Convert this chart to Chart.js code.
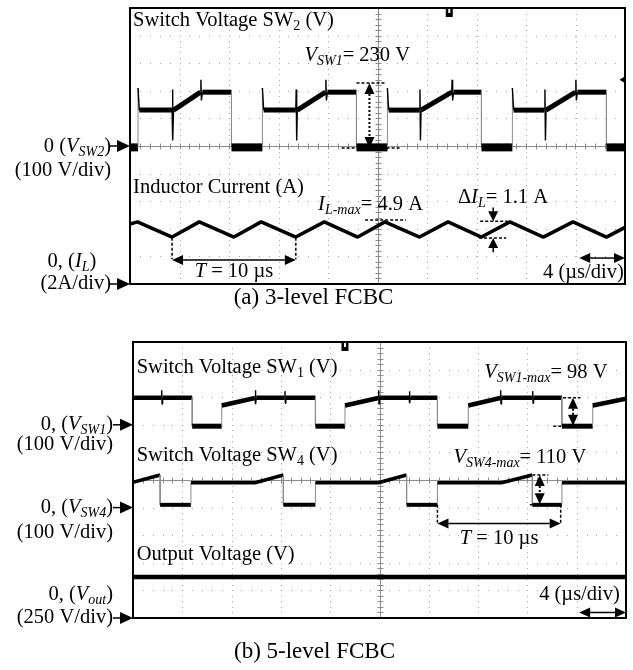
<!DOCTYPE html>
<html lang="en">
<head>
<meta charset="UTF-8">
<title>FCBC | formas de onda</title>
<script src="https://cdn.jsdelivr.net/npm/chart.js@4"></script>
<style>
    body { margin: 0; background: #fff; width: 633px; height: 670px; overflow: hidden; }
    canvas { position: absolute; left: 0; }
    #graficoA { top: 0; }
    #graficoB { top: 320px; }
</style>
</head>
<body>
<canvas id="graficoA" width="633" height="320"></canvas>
<canvas id="graficoB" width="633" height="350"></canvas>
<script>
// eixo do tempo: 4 us/div, 10 divisoes
var tempoMax = 40
var usPorDiv = 4

// (a) 3 niveis - tensao na chave SW2 (V), 100 V/div, zero no centro
var sw2T = [0, 0.65, 0.65, 0.75, 3.4, 3.43, 3.47, 3.52, 5.7, 5.73, 5.77, 5.85, 8.2, 8.2,
    10.7, 10.7, 10.8, 13.4, 13.43, 13.47, 13.52, 15.8, 15.83, 15.87, 15.95, 18.3, 18.3,
    20.8, 20.8, 20.9, 23.4, 23.43, 23.47, 23.52, 26.0, 26.03, 26.07, 26.15, 28.4, 28.4,
    30.9, 30.9, 31.0, 33.5, 33.53, 33.57, 33.62, 36.0, 36.03, 36.07, 36.15, 38.5, 38.5, 40]
var sw2V = [-5, -5, 210, 130, 130, 205, 20, 130, 195, 240, 165, 195, 195, -5,
    -5, 210, 130, 130, 205, 20, 130, 195, 240, 165, 195, 195, -5,
    -5, 210, 130, 130, 205, 20, 130, 195, 240, 165, 195, 195, -5,
    -5, 210, 130, 130, 205, 20, 130, 195, 240, 165, 195, 195, -5, -5]

// corrente no indutor (A), 2 A/div, zero embaixo
var ilT = [0, 0.6, 3.4, 5.6, 8.4, 10.6, 13.4, 15.7, 18.4, 20.6, 23.4, 25.7, 28.4, 30.7, 33.4, 35.8, 38.5, 40]
var ilA = [4.35, 4.5, 3.4, 4.5, 3.4, 4.5, 3.4, 4.5, 3.4, 4.5, 3.4, 4.5, 3.4, 4.5, 3.4, 4.5, 3.4, 4.1]

// (b) 5 niveis - SW1 (V), 100 V/div
var sw1T = [0, 2.3, 2.33, 2.36, 2.4, 4.8, 4.8, 7.2, 7.2, 9.9, 9.93, 9.96, 10.0,
    12.3, 12.33, 12.36, 12.4, 14.8, 14.8, 17.2, 17.2, 19.9, 19.93, 19.96, 20.0,
    22.4, 22.43, 22.46, 22.5, 24.7, 24.7, 27.2, 27.2, 29.8, 29.83, 29.86, 29.9,
    32.4, 32.43, 32.46, 32.5, 34.8, 34.8, 37.3, 37.3, 40]
var sw1V = [98, 98, 125, 75, 98, 98, -5, -5, 70, 97, 125, 75, 98,
    98, 122, 78, 98, 98, -5, -5, 70, 97, 125, 75, 98,
    98, 122, 78, 98, 98, -5, -5, 70, 97, 125, 75, 98,
    98, 122, 78, 98, 98, -5, -5, 70, 95]

// SW4 (V), 100 V/div
var sw4T = [0, 2.2, 2.2, 4.7, 4.7, 9.9, 12.2, 12.2, 14.8, 14.8, 19.9, 22.2, 22.2, 24.7, 24.7, 29.9, 32.4, 32.4, 34.8, 34.8, 40]
var sw4V = [92, 118, 10, 10, 90, 90, 118, 10, 10, 90, 90, 118, 10, 10, 90, 90, 118, 10, 10, 90, 90]

// tensao de saida (V), 250 V/div
var voutT = [0, 40]
var voutV = [372, 372]

// posicao do zero (div) e escala de cada canal
var canalSw2 = { zero: 0, porDiv: 100 }
var canalIl = { zero: -5, porDiv: 2 }
var canalSw1 = { zero: 2, porDiv: 100 }
var canalSw4 = { zero: -1, porDiv: 100 }
var canalVout = { zero: -5, porDiv: 250 }

var FONTE = '"Liberation Serif", "Times New Roman", serif'
var TAM = 20.5

function pontos(ts, vs, canal) {
    return ts.map(function (t, i) {
        return { x: t, y: canal.zero + vs[i] / canal.porDiv }
    })
}

// bordas verticais finas e cinzas, picos finos, faixa baixa mais grossa
function larguraSeg(ts, vs, grossa, baixa, larguraBaixa) {
    return function (ctx) {
        var i = ctx.p0DataIndex, j = ctx.p1DataIndex
        var dt = ts[j] - ts[i]
        if (dt < 0.01) return 1
        if (dt < 0.12) return 1.4
        if (baixa !== null && vs[i] <= baixa && vs[j] <= baixa) return larguraBaixa
        return grossa
    }
}
function corSeg(ts) {
    return function (ctx) {
        return ts[ctx.p1DataIndex] - ts[ctx.p0DataIndex] < 0.01 ? '#8a8a8a' : '#000'
    }
}

function serie(ts, vs, canal, grossa, baixa, larguraBaixa) {
    return {
        data: pontos(ts, vs, canal),
        borderColor: '#000',
        borderWidth: grossa,
        borderJoinStyle: 'bevel',
        pointRadius: 0,
        tension: 0,
        segment: {
            borderWidth: larguraSeg(ts, vs, grossa, baixa, larguraBaixa),
            borderColor: corSeg(ts)
        }
    }
}

function fonte(estilo, tam) {
    var s = estilo.indexOf('s') >= 0 ? Math.round(tam * 0.68) : tam
    return (estilo.indexOf('i') >= 0 ? 'italic ' : '') + s + 'px ' + FONTE
}

function texto(ctx, partes, x, y, alinhar, tam) {
    tam = tam || TAM
    var total = 0
    partes.forEach(function (p) {
        ctx.font = fonte(p[1], tam)
        total += ctx.measureText(p[0]).width
    })
    var x0 = alinhar === 'right' ? x - total : (alinhar === 'center' ? x - total / 2 : x)
    ctx.textBaseline = 'middle'
    ctx.textAlign = 'left'
    ctx.fillStyle = '#000'
    partes.forEach(function (p) {
        ctx.font = fonte(p[1], tam)
        var dy = p[1].indexOf('s') >= 0 ? tam * 0.28 : 0
        ctx.fillText(p[0], x0, y + dy)
        x0 += ctx.measureText(p[0]).width
    })
}

function linha(ctx, x1, y1, x2, y2, tracos, largura) {
    ctx.setLineDash(tracos || [])
    ctx.lineWidth = largura || 1.5
    ctx.beginPath()
    ctx.moveTo(x1, y1)
    ctx.lineTo(x2, y2)
    ctx.stroke()
    ctx.setLineDash([])
}

function cabeca(ctx, x, y, ang, comp, larg) {
    var c = Math.cos(ang), s = Math.sin(ang)
    ctx.beginPath()
    ctx.moveTo(x, y)
    ctx.lineTo(x - comp * c + larg * s, y - comp * s - larg * c)
    ctx.lineTo(x - comp * c - larg * s, y - comp * s + larg * c)
    ctx.closePath()
    ctx.fill()
}

function setaDupla(ctx, x1, y1, x2, y2, tracos, largura) {
    var ang = Math.atan2(y2 - y1, x2 - x1)
    var comp = 11, larg = 5
    var c = Math.cos(ang), s = Math.sin(ang)
    linha(ctx, x1 + comp * c, y1 + comp * s, x2 - comp * c, y2 - comp * s, tracos, largura)
    cabeca(ctx, x2, y2, ang, comp, larg)
    cabeca(ctx, x1, y1, ang + Math.PI, comp, larg)
}

function setaSimples(ctx, x1, y1, x2, y2) {
    var ang = Math.atan2(y2 - y1, x2 - x1)
    linha(ctx, x1, y1, x2 - 9 * Math.cos(ang), y2 - 9 * Math.sin(ang), [], 1.5)
    cabeca(ctx, x2, y2, ang, 10, 5)
}

// seta "0 ->" que aponta para o nivel zero de um canal, na borda esquerda
function setaZero(ctx, xPonta, y) {
    linha(ctx, xPonta - 20, y, xPonta - 10, y, [], 1.5)
    cabeca(ctx, xPonta, y, 0, 13, 6)
}

function marcaGatilho(ctx, x, y) {
    ctx.fillStyle = '#000'
    ctx.fillRect(x - 3.5, y - 4, 7, 8)
    ctx.fillStyle = '#fff'
    ctx.fillRect(x - 1, y - 4, 2, 4)
    ctx.fillStyle = '#000'
}

// grade do osciloscopio desenhada a partir dos ticks das escalas
var gradeOsc = {
    id: 'gradeOsc',
    beforeDatasetsDraw: function (chart) {
        var ctx = chart.ctx, a = chart.chartArea
        var sx = chart.scales.x, sy = chart.scales.y
        var passoX = (sx.getPixelForValue(usPorDiv) - sx.getPixelForValue(0)) / 5
        var passoY = (sy.getPixelForValue(0) - sy.getPixelForValue(1)) / 5
        ctx.save()
        ctx.fillStyle = '#a8a8a8'
        sx.ticks.forEach(function (tk) {
            var px = Math.round(sx.getPixelForValue(tk.value))
            for (var y = a.top; y < a.bottom; y += passoY) ctx.fillRect(px, Math.round(y), 1, 1)
        })
        sy.ticks.forEach(function (tk) {
            var py = Math.round(sy.getPixelForValue(tk.value))
            for (var x = a.left; x < a.right; x += passoX) ctx.fillRect(Math.round(x), py, 1, 1)
        })
        // cruz central com marcas menores
        var cx = Math.round(sx.getPixelForValue((sx.min + sx.max) / 2)) + 0.5
        var cy = Math.round(sy.getPixelForValue(0)) + 0.5
        ctx.strokeStyle = '#8c8c8c'
        linha(ctx, cx, a.top, cx, a.bottom, [], 1)
        linha(ctx, a.left, cy, a.right, cy, [], 1)
        for (var x = a.left; x < a.right; x += passoX) linha(ctx, Math.round(x) + 0.5, cy - 3, Math.round(x) + 0.5, cy + 3, [], 1)
        for (var y = a.top; y < a.bottom; y += passoY) linha(ctx, cx - 3, Math.round(y) + 0.5, cx + 3, Math.round(y) + 0.5, [], 1)
        ctx.restore()
    },
    afterDatasetsDraw: function (chart) {
        var ctx = chart.ctx, a = chart.chartArea
        ctx.save()
        ctx.strokeStyle = '#000'
        ctx.lineWidth = 2
        ctx.strokeRect(a.left, a.top, a.right - a.left, a.bottom - a.top)
        ctx.restore()
    }
}

function anotacoes(desenhar) {
    return {
        id: 'anotacoes',
        afterDraw: function (chart) {
            var ctx = chart.ctx
            var sx = chart.scales.x, sy = chart.scales.y
            var X = function (t) { return sx.getPixelForValue(t) }
            var Y = function (d) { return sy.getPixelForValue(d) }
            var Yc = function (canal, v) { return sy.getPixelForValue(canal.zero + v / canal.porDiv) }
            ctx.save()
            ctx.strokeStyle = '#000'
            ctx.fillStyle = '#000'
            desenhar(ctx, chart, X, Y, Yc)
            ctx.restore()
        }
    }
}

function opcoes(padding) {
    return {
        responsive: false,
        animation: false,
        devicePixelRatio: 1,
        layout: { padding: padding },
        plugins: { legend: { display: false }, tooltip: { enabled: false } },
        scales: {
            x: {
                type: 'linear', min: 0, max: tempoMax,
                ticks: { stepSize: usPorDiv, display: false },
                grid: { display: false, drawTicks: false },
                border: { display: false }
            },
            y: {
                type: 'linear', min: -5, max: 5,
                ticks: { stepSize: 1, display: false },
                grid: { display: false, drawTicks: false },
                border: { display: false }
            }
        }
    }
}

// ---------- (a) 3-level FCBC ----------
var desenhoA = anotacoes(function (ctx, chart, X, Y, Yc) {
    var a = chart.chartArea
    texto(ctx, [['Switch Voltage SW', ''], ['2', 's'], [' (V)', '']], X(0.25), Y(4.53))
    texto(ctx, [['V', 'i'], ['SW1', 'is'], ['= 230 V', '']], X(14.1), Y(3.26))
    linha(ctx, X(18.3), Yc(canalSw2, 228), X(20.7), Yc(canalSw2, 228), [3, 2], 1.5)
    linha(ctx, X(17.1), Yc(canalSw2, -7), X(21.8), Yc(canalSw2, -7), [3, 2], 1.5)
    setaDupla(ctx, X(19.35), Yc(canalSw2, 228), X(19.35), Yc(canalSw2, -7), [2, 2], 2)

    texto(ctx, [['Inductor Current (A)', '']], X(0.25), Y(-1.52))
    texto(ctx, [['I', 'i'], ['L-max', 'is'], ['= 4.9 A', '']], X(15.2), Y(-2.14))
    linha(ctx, X(19.0), Yc(canalIl, 4.64), X(22.3), Yc(canalIl, 4.64), [3, 2], 1.5)

    texto(ctx, [['\u0394', ''], ['I', 'i'], ['L', 'is'], ['= 1.1 A', '']], X(26.5), Y(-1.88))
    linha(ctx, X(28.3), Yc(canalIl, 4.55), X(30.5), Yc(canalIl, 4.55), [3, 2], 1.5)
    linha(ctx, X(28.2), Yc(canalIl, 3.33), X(30.4), Yc(canalIl, 3.33), [3, 2], 1.5)
    setaSimples(ctx, X(29.35), Yc(canalIl, 5.55), X(29.35), Yc(canalIl, 4.55))
    setaSimples(ctx, X(29.35), Yc(canalIl, 2.3), X(29.35), Yc(canalIl, 3.33))

    linha(ctx, X(3.4), Yc(canalIl, 3.35), X(3.4), Yc(canalIl, 1.8), [3, 2], 1.5)
    linha(ctx, X(13.4), Yc(canalIl, 3.35), X(13.4), Yc(canalIl, 1.8), [3, 2], 1.5)
    setaDupla(ctx, X(3.4), Yc(canalIl, 1.74), X(13.4), Yc(canalIl, 1.74), [], 1.5)
    texto(ctx, [['T', 'i'], [' = 10 \u00b5s', '']], X(8.4), Yc(canalIl, 0.87), 'center')

    setaDupla(ctx, X(36.3), Y(-4.06), X(tempoMax), Y(-4.06), [], 1.5)
    texto(ctx, [['4 (\u00b5s/div)', '']], X(39.9), Y(-4.57), 'right')

    marcaGatilho(ctx, X(25.8), Y(4.82))
    cabeca(ctx, X(39.55), Y(2.4), Math.PI, 5, 3)

    // rotulos da esquerda
    var xr = a.left - 19
    setaZero(ctx, a.left, Yc(canalSw2, 0))
    texto(ctx, [['0 (', ''], ['V', 'i'], ['SW2', 'is'], [')', '']], xr, Yc(canalSw2, 0) + 1, 'right')
    texto(ctx, [['(100 V/div)', '']], xr, Yc(canalSw2, 0) + 25, 'right')
    setaZero(ctx, a.left, Yc(canalIl, 0))
    texto(ctx, [['(2A/div)', '']], xr, Yc(canalIl, 0), 'right')
    texto(ctx, [['0, (', ''], ['I', 'i'], ['L', 'is'], [')', '']], 72, Yc(canalIl, 0) - 22, 'center')

    texto(ctx, [['(a) 3-level FCBC', '']], chart.width / 2 - 3, a.bottom + 14, 'center', 23)
})

new Chart(document.getElementById('graficoA'), {
    type: 'line',
    data: {
        datasets: [
            serie(sw2T, sw2V, canalSw2, 5, -5, 8),
            serie(ilT, ilA, canalIl, 3.5, null, 0)
        ]
    },
    options: opcoes({ left: 130, top: 8, right: 8, bottom: 36 }),
    plugins: [gradeOsc, desenhoA]
})

// ---------- (b) 5-level FCBC ----------
var desenhoB = anotacoes(function (ctx, chart, X, Y, Yc) {
    var a = chart.chartArea
    texto(ctx, [['Switch Voltage SW', ''], ['1', 's'], [' (V)', '']], X(0.3), Y(4.06))
    texto(ctx, [['Switch Voltage SW', ''], ['4', 's'], [' (V)', '']], X(0.3), Y(0.87))
    texto(ctx, [['Output Voltage (V)', '']], X(0.3), Y(-2.72))

    texto(ctx, [['V', 'i'], ['SW1-max', 'is'], ['= 98 V', '']], X(28.5), Y(3.88))
    linha(ctx, X(34.9), Yc(canalSw1, 98), X(36.3), Yc(canalSw1, 98), [3, 2], 1.5)
    linha(ctx, X(34.1), Yc(canalSw1, -5), X(34.9), Yc(canalSw1, -5), [3, 2], 1.5)
    setaDupla(ctx, X(35.7), Yc(canalSw1, 98), X(35.7), Yc(canalSw1, -3), [2, 2], 2)

    texto(ctx, [['V', 'i'], ['SW4-max', 'is'], ['= 110 V', '']], X(26), Y(0.8))
    linha(ctx, X(32.4), Yc(canalSw4, 118), X(33.7), Yc(canalSw4, 118), [3, 2], 1.5)
    linha(ctx, X(32.2), Yc(canalSw4, 10), X(32.8), Yc(canalSw4, 10), [3, 2], 1.5)
    setaDupla(ctx, X(33.0), Yc(canalSw4, 118), X(33.0), Yc(canalSw4, 12), [2, 2], 2)

    linha(ctx, X(24.7), Yc(canalSw4, 10), X(24.7), Yc(canalSw4, -55), [3, 2], 1.5)
    linha(ctx, X(34.7), Yc(canalSw4, 10), X(34.7), Yc(canalSw4, -55), [3, 2], 1.5)
    setaDupla(ctx, X(24.7), Yc(canalSw4, -58), X(34.7), Yc(canalSw4, -58), [], 1.5)
    texto(ctx, [['T', 'i'], [' = 10 \u00b5s', '']], X(29.7), Yc(canalSw4, -112), 'center')

    texto(ctx, [['4 (\u00b5s/div)', '']], X(39.5), Y(-4.15), 'right')
    setaDupla(ctx, X(36.2), Y(-4.8), X(tempoMax), Y(-4.8), [], 1.5)

    marcaGatilho(ctx, X(17.2), Y(4.82))

    var xr = a.left - 20
    setaZero(ctx, a.left, Yc(canalSw1, 0))
    texto(ctx, [['0, (', ''], ['V', 'i'], ['SW1', 'is'], [')', '']], xr, Yc(canalSw1, 0), 'right')
    texto(ctx, [['(100 V/div)', '']], xr, Yc(canalSw1, 0) + 20, 'right')
    setaZero(ctx, a.left, Yc(canalSw4, 0))
    texto(ctx, [['0, (', ''], ['V', 'i'], ['SW4', 'is'], [')', '']], xr, Yc(canalSw4, 0), 'right')
    texto(ctx, [['(100 V/div)', '']], xr, Yc(canalSw4, 0) + 25, 'right')
    setaZero(ctx, a.left, Yc(canalVout, 0))
    texto(ctx, [['(250 V/div)', '']], xr, Yc(canalVout, 0), 'right')
    texto(ctx, [['0, (', ''], ['V', 'i'], ['out', 'is'], [')', '']], xr, Yc(canalVout, 0) - 23, 'right')

    texto(ctx, [['(b) 5-level FCBC', '']], chart.width / 2 - 2, a.bottom + 34, 'center', 23)
})

new Chart(document.getElementById('graficoB'), {
    type: 'line',
    data: {
        datasets: [
            serie(sw1T, sw1V, canalSw1, 4.5, -5, 5),
            serie(sw4T, sw4V, canalSw4, 3.5, 10, 4),
            serie(voutT, voutV, canalVout, 4.5, null, 0)
        ]
    },
    options: opcoes({ left: 133, top: 22, right: 7, bottom: 52 }),
    plugins: [gradeOsc, desenhoB]
})
</script>
</body>
</html>
